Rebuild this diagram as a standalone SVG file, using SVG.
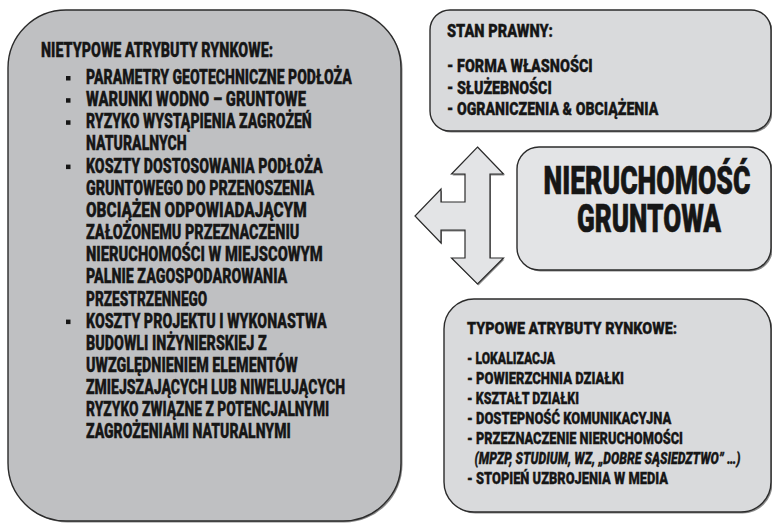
<svg xmlns="http://www.w3.org/2000/svg" width="772" height="523" viewBox="0 0 772 523">
<style>
.box{stroke:#2b2b2b;stroke-width:1.4}
.sh{fill:#8a8a8a}
.dark{fill:#bfc0c2}
.light{fill:#d9dadc}
.lighter{fill:#e3e4e6}
text{font-family:"Roboto","Liberation Sans","DejaVu Sans",sans-serif;font-weight:900;fill:#161616;stroke:#161616;stroke-width:0.35}
.t{font-size:19.5px}
.r{font-size:18.5px}
.b{font-size:17px}
.big{font-size:38px;stroke-width:0.6}
.it{font-style:italic}
.bul{fill:#161616}
</style>
<rect width="772" height="523" fill="#ffffff"/>
<g id="connectors">
<polygon points="478.5,148.5 504.5,175.5 491,175.5 491,259.5 504.5,259.5 478.5,285.5 452.5,259.5 466,259.5 466,231.5 442,231.5 442,244.5 416,217.5 442,190.5 442,203.5 466,203.5 466,175.5 452.5,175.5" fill="#8a8a8a"/>
<polygon points="477.5,147 503.5,174 490,174 490,258 503.5,258 477.5,284 451.5,258 465,258 465,230 441,230 441,243 415,216 441,189 441,202 465,202 465,174 451.5,174" fill="#e3e4e6" stroke="#2b2b2b" stroke-width="1.2" stroke-linejoin="miter"/>
</g>
<g id="nietypowe">
<rect class="sh" x="9.5" y="11.5" width="393" height="511" rx="58" ry="58"/>
<rect class="box dark" x="8" y="10" width="393" height="511" rx="58" ry="58"/>
<text class="t" x="41" y="57" textLength="232" lengthAdjust="spacingAndGlyphs">NIETYPOWE ATRYBUTY RYNKOWE:</text>
<rect class="bul" x="66" y="76" width="4.5" height="4.5"/>
<rect class="bul" x="66" y="98.2" width="4.5" height="4.5"/>
<rect class="bul" x="66" y="120.3" width="4.5" height="4.5"/>
<rect class="bul" x="66" y="164.6" width="4.5" height="4.5"/>
<rect class="bul" x="66" y="319.6" width="4.5" height="4.5"/>
<text class="t" x="86" y="84" textLength="265.7" lengthAdjust="spacingAndGlyphs">PARAMETRY GEOTECHNICZNE PODŁOŻA</text>
<text class="t" x="86" y="106.2" textLength="220" lengthAdjust="spacingAndGlyphs">WARUNKI WODNO – GRUNTOWE</text>
<text class="t" x="86" y="128.3" textLength="225.7" lengthAdjust="spacingAndGlyphs">RYZYKO WYSTĄPIENIA ZAGROŻEŃ</text>
<text class="t" x="86" y="150.4" textLength="100.7" lengthAdjust="spacingAndGlyphs">NATURALNYCH</text>
<text class="t" x="86" y="172.6" textLength="236.7" lengthAdjust="spacingAndGlyphs">KOSZTY DOSTOSOWANIA PODŁOŻA</text>
<text class="t" x="86" y="194.7" textLength="228.3" lengthAdjust="spacingAndGlyphs">GRUNTOWEGO DO PRZENOSZENIA</text>
<text class="t" x="86" y="216.9" textLength="220.7" lengthAdjust="spacingAndGlyphs">OBCIĄŻEN ODPOWIADAJĄCYM</text>
<text class="t" x="86" y="239" textLength="213.3" lengthAdjust="spacingAndGlyphs">ZAŁOŻONEMU PRZEZNACZENIU</text>
<text class="t" x="86" y="261.2" textLength="236.7" lengthAdjust="spacingAndGlyphs">NIERUCHOMOŚCI W MIEJSCOWYM</text>
<text class="t" x="86" y="283.3" textLength="201.3" lengthAdjust="spacingAndGlyphs">PALNIE ZAGOSPODAROWANIA</text>
<text class="t" x="86" y="305.5" textLength="121.3" lengthAdjust="spacingAndGlyphs">PRZESTRZENNEGO</text>
<text class="t" x="86" y="327.6" textLength="240.7" lengthAdjust="spacingAndGlyphs">KOSZTY PROJEKTU I WYKONASTWA</text>
<text class="t" x="86" y="349.8" textLength="180.7" lengthAdjust="spacingAndGlyphs">BUDOWLI INŻYNIERSKIEJ Z</text>
<text class="t" x="86" y="371.9" textLength="211.7" lengthAdjust="spacingAndGlyphs">UWZGLĘDNIENIEM ELEMENTÓW</text>
<text class="t" x="86" y="394.1" textLength="259" lengthAdjust="spacingAndGlyphs">ZMIEJSZAJĄCYCH LUB NIWELUJĄCYCH</text>
<text class="t" x="86" y="416.2" textLength="243.3" lengthAdjust="spacingAndGlyphs">RYZYKO ZWIĄZNE Z POTENCJALNYMI</text>
<text class="t" x="86" y="438.4" textLength="204.7" lengthAdjust="spacingAndGlyphs">ZAGROŻENIAMI NATURALNYMI</text>
</g>
<g id="stan-prawny">
<rect class="sh" x="431.5" y="11.5" width="341" height="121" rx="20" ry="20"/>
<rect class="box light" x="430" y="10" width="341" height="121" rx="20" ry="20"/>
<text class="r" x="447" y="37" textLength="106" lengthAdjust="spacingAndGlyphs">STAN PRAWNY:</text>
<text class="r" x="447" y="72" textLength="145.7" lengthAdjust="spacingAndGlyphs">- FORMA WŁASNOŚCI</text>
<text class="r" x="447" y="93.5" textLength="104.7" lengthAdjust="spacingAndGlyphs">- SŁUŻEBNOŚCI</text>
<text class="r" x="447" y="115" textLength="211.3" lengthAdjust="spacingAndGlyphs">- OGRANICZENIA &amp; OBCIĄŻENIA</text>
</g>
<g id="nieruchomosc">
<rect class="sh" x="518.5" y="148.5" width="254" height="123" rx="22" ry="22"/>
<rect class="box lighter" x="517" y="147" width="254" height="123" rx="22" ry="22"/>
<text class="big" x="647" y="194" text-anchor="middle" textLength="207" lengthAdjust="spacingAndGlyphs">NIERUCHOMOŚĆ</text>
<text class="big" x="649" y="232" text-anchor="middle" textLength="144" lengthAdjust="spacingAndGlyphs">GRUNTOWA</text>
</g>
<g id="typowe">
<rect class="sh" x="445.5" y="300.5" width="327" height="213" rx="30" ry="30"/>
<rect class="box light" x="444" y="299" width="327" height="213" rx="30" ry="30"/>
<text class="b" x="467" y="334" textLength="210" lengthAdjust="spacingAndGlyphs">TYPOWE ATRYBUTY RYNKOWE:</text>
<text class="b" x="467" y="363.5" textLength="88" lengthAdjust="spacingAndGlyphs">- LOKALIZACJA</text>
<text class="b" x="467" y="383.6" textLength="157" lengthAdjust="spacingAndGlyphs">- POWIERZCHNIA DZIAŁKI</text>
<text class="b" x="467" y="403.7" textLength="112" lengthAdjust="spacingAndGlyphs">- KSZTAŁT DZIAŁKI</text>
<text class="b" x="467" y="423.8" textLength="204.4" lengthAdjust="spacingAndGlyphs">- DOSTEPNOŚĆ KOMUNIKACYJNA</text>
<text class="b" x="467" y="443.9" textLength="216" lengthAdjust="spacingAndGlyphs">- PRZEZNACZENIE NIERUCHOMOŚCI</text>
<text class="b it" x="474.5" y="464" textLength="266" lengthAdjust="spacingAndGlyphs">(MPZP, STUDIUM, WZ, „DOBRE SĄSIEDZTWO” …)</text>
<text class="b" x="467" y="484.1" textLength="201" lengthAdjust="spacingAndGlyphs">- STOPIEŃ UZBROJENIA W MEDIA</text>
</g>
</svg>
